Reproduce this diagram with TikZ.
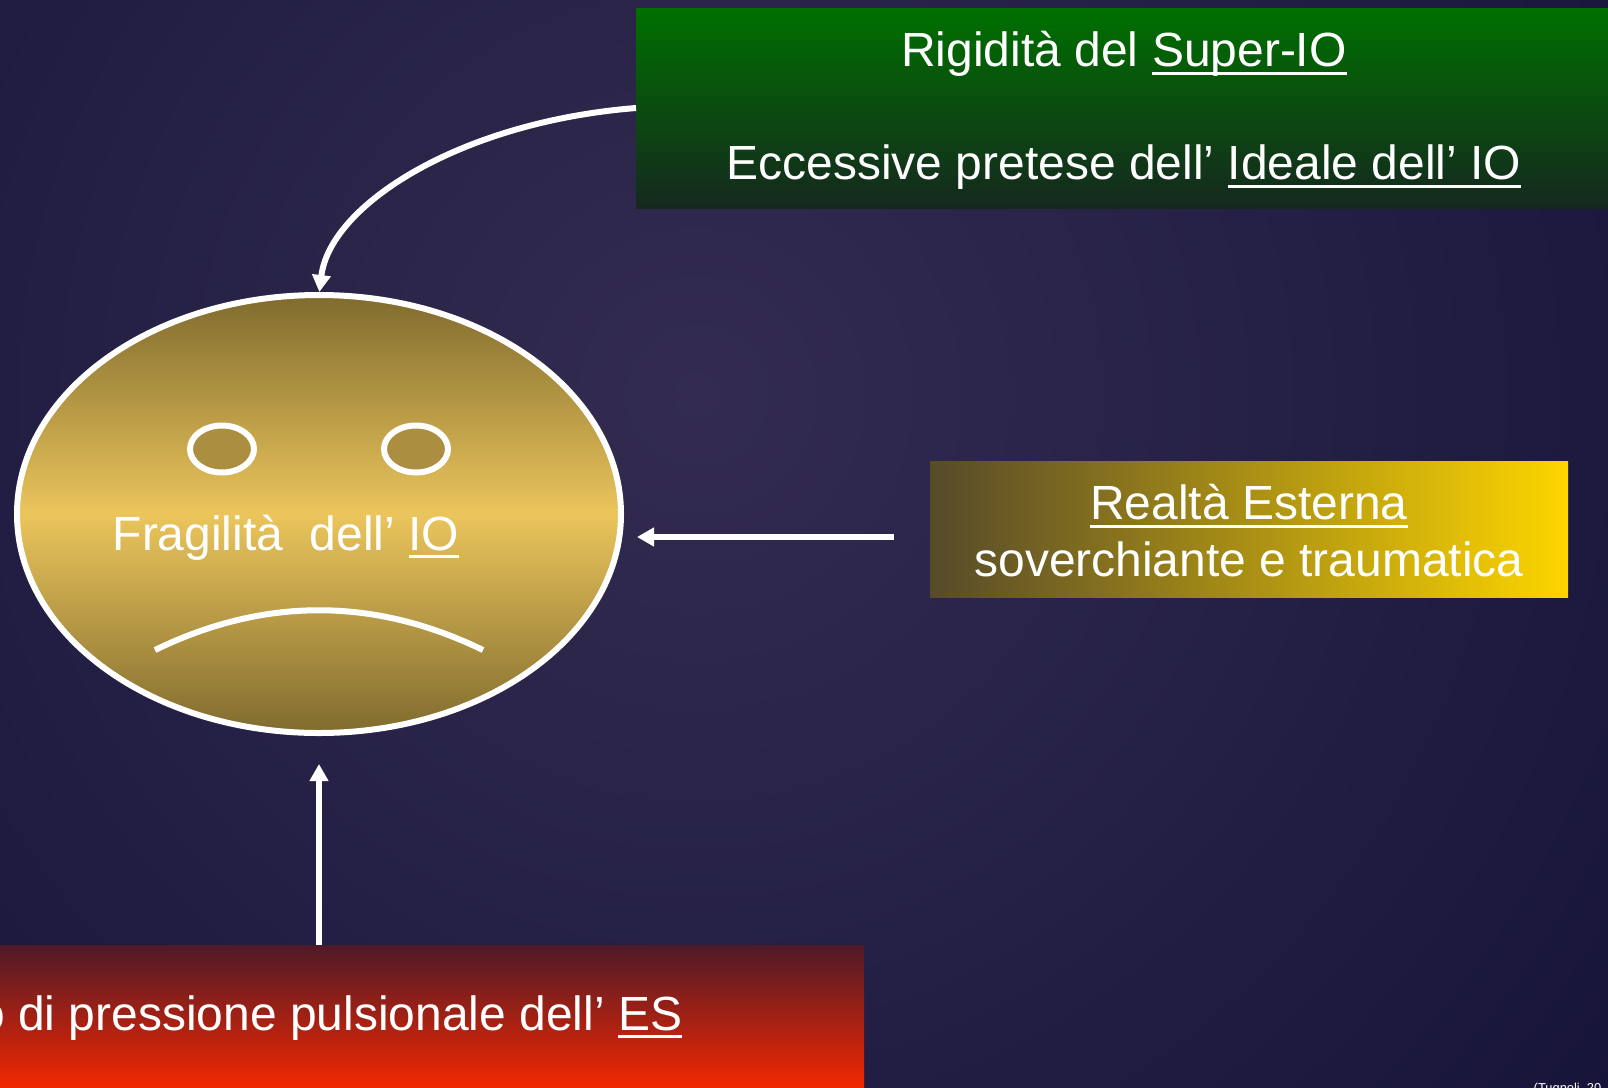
\documentclass[tikz,border=0pt]{standalone}
\usepackage{fontspec}
\setmainfont{Liberation Sans}
\usetikzlibrary{arrows.meta,shapes.geometric}
\definecolor{bginner}{HTML}{332C50}
\definecolor{bgouter}{HTML}{17143A}
\definecolor{eyefill}{HTML}{AB8E3F}
\definecolor{goldtip}{HTML}{806B2E}
\definecolor{goldmid}{HTML}{EBC55C}
\definecolor{greentop}{HTML}{007000}
\definecolor{greenlow}{HTML}{15281F}
\definecolor{redtop}{HTML}{4F1A28}
\definecolor{redlow}{HTML}{F52800}
\definecolor{yellowleft}{HTML}{564A2A}
\definecolor{yellowright}{HTML}{FDD500}
\newcommand{\undertext}[1]{\leavevmode\setbox0\hbox{#1}\rlap{\rule[-2.35pt]{\wd0}{0.85pt}}\box0}
\tikzset{
	slidetext/.style={text=white, font=\fontsize{13.65}{16}\selectfont},
	panel/.style={rectangle, inner sep=0pt, outer sep=0pt},
	whiteline/.style={draw=white, line width=0.6mm},
	pointer/.style={draw=white, line width=0.06cm, -{Triangle[width=0.18cm,length=0.17cm]}},
}

\begin{document}
\begin{tikzpicture}
		%%%%% START %%%%%
		
		\useasboundingbox (0, 0) rectangle (16.08, 10.87);
		\clip (0, 0) rectangle (16.08, 10.87);
		\shade[inner color=bginner, outer color=bgouter] (6.97, 6.92) circle (11.5);
		
		\node[panel, slidetext, align=center, minimum width=9.76cm, minimum height=2.00cm, top color=greentop, bottom color=greenlow] (superio) at (11.24, 9.79) {\rule{0pt}{11.4pt}Rigidità del \undertext{Super-IO}\\[16.1pt]Eccessive pretese dell’ \undertext{Ideale dell’ IO}};
		\node[panel, slidetext, align=center, minimum width=6.38cm, minimum height=1.36cm, left color=yellowleft, right color=yellowright] (realta) at (12.49, 5.58) {\rule{0pt}{10.9pt}\undertext{Realtà Esterna}\\soverchiante e traumatica};
		\node[panel, minimum width=10.90cm, minimum height=1.45cm, top color=redtop, bottom color=redlow] (esbox) at (3.19, 0.695) {};
		\node[slidetext, anchor=base east, inner sep=0pt] (estext) at (6.83, 0.57) {o di pressione pulsionale dell’ \undertext{ES}};
		
		\node[ellipse, whiteline, inner sep=0pt, outer sep=0pt, minimum width=6.04cm, minimum height=4.38cm, top color=goldtip, bottom color=goldtip, middle color=goldmid] (frail) at (3.19, 5.73) {};
		\node[ellipse, whiteline, fill=eyefill, inner sep=0pt, minimum width=0.64cm, minimum height=0.47cm] (lefteye) at (2.22, 6.38) {};
		\node[ellipse, whiteline, fill=eyefill, inner sep=0pt, minimum width=0.64cm, minimum height=0.47cm] (righteye) at (4.16, 6.38) {};
		\node[slidetext, anchor=base west, inner sep=0pt] (fragile) at (1.12, 5.37) {Fragilità\ \ dell’ \undertext{IO}};
		\draw[whiteline] (1.55, 4.37) .. controls (2.64, 4.90) and (3.74, 4.90) .. (4.83, 4.37);
		
		\coordinate (iobelow) at (3.19, 3.23);
		\coordinate (ioright) at (6.37, 5.50);
		\coordinate (realtaleft) at (8.94, 5.50);
		
		\draw[pointer, shorten >=0.03cm] (superio.west) .. controls (4.60, 9.65) and (3.30, 8.82) .. (frail.north);
		\draw[pointer] (realtaleft) -- (ioright);
		\draw[pointer] (esbox.north) -- (iobelow);
		
		\node[text=white, font=\fontsize{3.67}{4}\selectfont, anchor=base west, inner sep=0pt] (source) at (15.33, -0.05) {(Tugnoli, 20};
		
		%%%%% END %%%%%
	\end{tikzpicture}
\end{document}
